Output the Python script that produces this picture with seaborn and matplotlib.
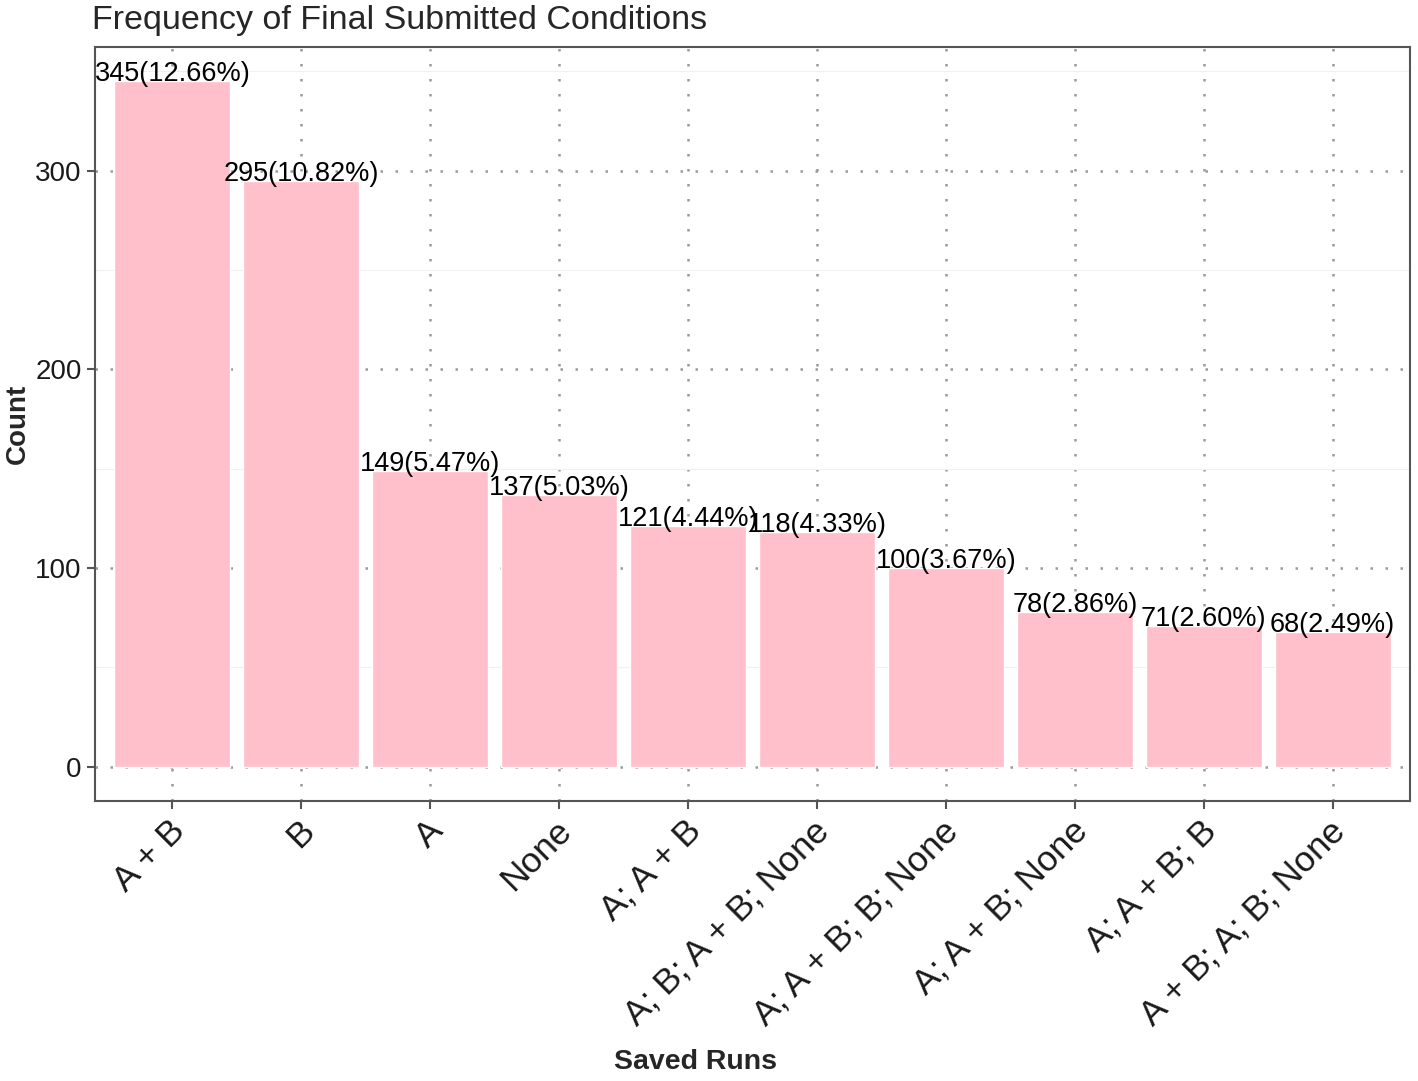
import numpy as np
import pandas as pd
import seaborn as sns
import matplotlib.pyplot as plt
import matplotlib.transforms as mtransforms
from matplotlib.ticker import MultipleLocator

# data
conditions = ['A + B', 'B', 'A', 'None', 'A; A + B', 'A; B; A + B; None',
              'A; A + B; B; None', 'A; A + B; None', 'A; A + B; B',
              'A + B; A; B; None']
counts = [345, 295, 149, 137, 121, 118, 100, 78, 71, 68]
percents = ['12.66%', '10.82%', '5.47%', '5.03%', '4.44%', '4.33%',
            '3.67%', '2.86%', '2.60%', '2.49%']

df = pd.DataFrame({'Saved_Runs': conditions, 'Count': counts})

sns.set_style('white')
plt.rcParams['font.family'] = ['Liberation Sans', 'DejaVu Sans']

fig = plt.figure(figsize=(14.18, 10.81), dpi=100)
ax = fig.add_axes([95 / 1418, 1 - 801 / 1081, (1410 - 95) / 1418, (801 - 47) / 1081])

sns.barplot(data=df, x='Saved_Runs', y='Count', order=conditions,
            color='#FFC0CB', saturation=1, width=0.9, ax=ax)

# grid behind the bars (seaborn switches the x grid off, so set it after)
ax.set_axisbelow(True)
ax.yaxis.set_minor_locator(MultipleLocator(50))
ax.yaxis.set_major_locator(MultipleLocator(100))
ax.xaxis.grid(True, which='major', color='#9a9a9a', linestyle=(0, (1, 5)), linewidth=1.8)
ax.yaxis.grid(True, which='major', color='#9a9a9a', linestyle=(0, (1, 5)), linewidth=1.8)
ax.yaxis.grid(True, which='minor', color='#f0f0f0', linestyle='-', linewidth=0.8)

for i, (c, p) in enumerate(zip(counts, percents)):
    ax.annotate(f'{c}({p})', (i, c), xytext=(0, 0), textcoords='offset points',
                ha='center', va='baseline', fontsize=19.5, color='black')

ax.set_xlim(-0.6, len(conditions) - 0.4)
ax.set_ylim(-17.25, 362.25)

for s in ax.spines.values():
    s.set_visible(True)
    s.set_color('#555555')
    s.set_linewidth(1.5)

ax.tick_params(axis='both', which='major', length=6, width=1.5, color='#555555',
               labelcolor='#1a1a1a', bottom=True, left=True)
ax.tick_params(axis='y', which='major', labelsize=20)
ax.tick_params(axis='x', which='major', labelsize=25.5)
ax.tick_params(axis='y', which='minor', length=0)
shift = mtransforms.ScaledTranslation(-3 / 72, 0, fig.dpi_scale_trans)
for lab in ax.get_xticklabels():
    lab.set_rotation(45)
    lab.set_ha('right')
    lab.set_rotation_mode('anchor')
    lab.set_transform(lab.get_transform() + shift)

ax.set_xlabel('')
ax.set_ylabel('')
fig.text(695 / 1418, 1 - 1062 / 1081, 'Saved Runs', ha='center', va='center',
         fontsize=20.5, fontweight='bold')
fig.text(18 / 1418, 1 - 424 / 1081, 'Count', ha='center', va='center',
         rotation=90, fontsize=20, fontweight='bold')
fig.text(92 / 1418, 1 - 21 / 1081, 'Frequency of Final Submitted Conditions',
         ha='left', va='center', fontsize=24.5)

plt.savefig('out.png', dpi=100)
